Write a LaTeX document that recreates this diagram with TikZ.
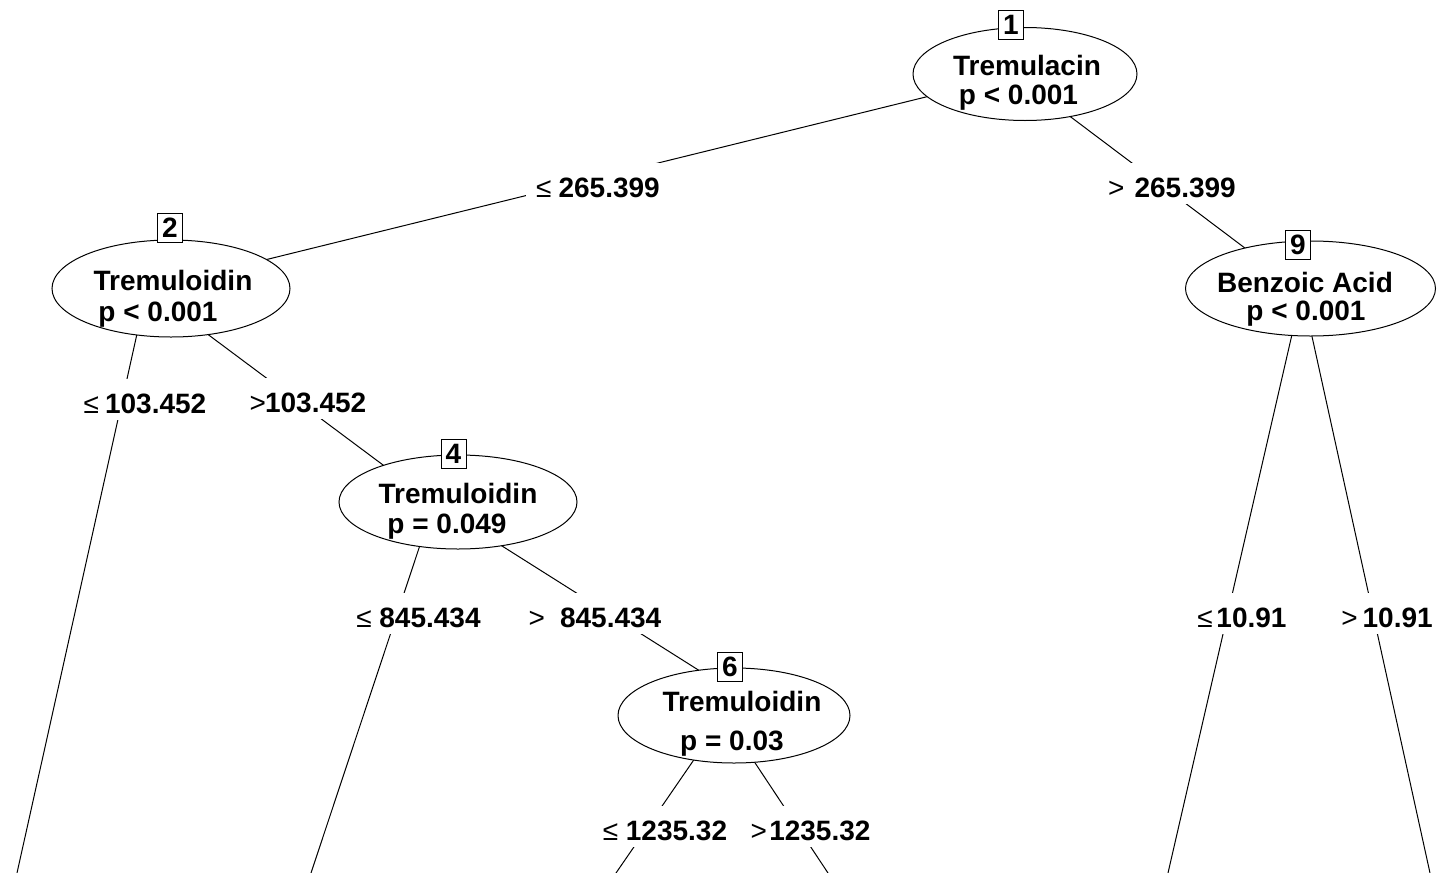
\documentclass[tikz,border=0pt]{standalone}
\usepackage{fontspec}
\setmainfont{Liberation Sans}
\usetikzlibrary{shapes.geometric}

\newcommand{\lesym}{{\mdseries ≤}}
\newcommand{\grsym}{{\mdseries >}}

\begin{document}
\begin{tikzpicture}[
    x=0.5pt, y=-0.5pt,
    font=\fontsize{14pt}{17pt}\selectfont\bfseries,
    split/.style={ellipse, draw, fill=white, inner sep=0pt, line width=0.5pt},
    idbox/.style={rectangle, draw, fill=white, minimum width=12.5pt, minimum height=14.5pt, inner sep=0pt, line width=0.5pt},
    vtext/.style={anchor=base, inner sep=0pt},
    cutlabel/.style={anchor=base, fill=white, inner xsep=5pt, inner ysep=3.5pt, text height=13.5pt, text depth=0pt},
    edge/.style={line width=0.5pt}
]
\useasboundingbox (0,0) rectangle (1437,873);

% where the edges meet the nodes
\coordinate (h1) at (1015,75);
\coordinate (h2) at (147,289);
\coordinate (h4) at (434,503);
\coordinate (h6in) at (730,690);
\coordinate (h6) at (724,716);
\coordinate (h9) at (1302,291);
% terminal nodes below the page
\coordinate (t3) at (17,873);
\coordinate (t5) at (311,873);
\coordinate (t7) at (616,873);
\coordinate (t8) at (828,873);
\coordinate (t10) at (1168,873);
\coordinate (t11) at (1430,873);

\draw[edge] (h1) -- (h2);
\draw[edge] (h1) -- (h9);
\draw[edge] (h2) -- (t3);
\draw[edge] (h2) -- (h4);
\draw[edge] (h4) -- (t5);
\draw[edge] (h4) -- (h6in);
\draw[edge] (h6) -- (t7);
\draw[edge] (h6) -- (t8);
\draw[edge] (h9) -- (t10);
\draw[edge] (h9) -- (t11);

% split labels
\node[cutlabel] (c12) at (598,197) {\lesym\hspace{3.5pt}265.399};
\node[cutlabel] (c19) at (1172,197) {\grsym\hspace{5pt}265.399};
\node[cutlabel] (c23) at (145,413) {\lesym\hspace{3pt}103.452};
\node[cutlabel] (c24) at (308,412) {\grsym\hspace{-0.5pt}103.452};
\node[cutlabel] (c45) at (418.5,627) {\lesym\hspace{3.8pt}845.434};
\node[cutlabel] (c46) at (595,627) {\grsym\hspace{7.5pt}845.434};
\node[cutlabel] (c67) at (665,840) {\lesym\hspace{3.8pt}1235.32};
\node[cutlabel] (c68) at (810.5,840) {\grsym\hspace{1.2pt}1235.32};
\node[cutlabel] (c910) at (1242,627) {\lesym\hspace{1.8pt}10.91};
\node[cutlabel] (c911) at (1387,627) {\grsym\hspace{2.5pt}10.91};

% inner nodes
\node[split, minimum width=112pt, minimum height=46.5pt] (n1) at (1025,74) {};
\node[split, minimum width=119pt, minimum height=48.5pt] (n2) at (171,288.5) {};
\node[split, minimum width=119pt, minimum height=47pt] (n4) at (458,502) {};
\node[split, minimum width=116pt, minimum height=47.5pt] (n6) at (734,715.5) {};
\node[split, minimum width=125pt, minimum height=47.5pt] (n9) at (1310.5,288.5) {};

\node[idbox] (b1) at (1011,25) {1};
\node[idbox] (b2) at (170,227.5) {2};
\node[idbox] (b4) at (453.5,454) {4};
\node[idbox] (b6) at (730,667) {6};
\node[idbox] (b9) at (1298,244.5) {9};

\node[vtext] (v1) at (1027,75) {Tremulacin};
\node[vtext] (p1) at (1018.5,104) {p < 0.001};
\node[vtext] (v2) at (173,290) {Tremuloidin};
\node[vtext] (p2) at (158,321) {p < 0.001};
\node[vtext] (v4) at (458,503) {Tremuloidin};
\node[vtext] (p4) at (447,533) {p = 0.049};
\node[vtext] (v6) at (742,711) {Tremuloidin};
\node[vtext] (p6) at (732,750) {p = 0.03};
\node[vtext] (v9) at (1305,292) {Benzoic Acid};
\node[vtext] (p9) at (1306,320) {p < 0.001};
\end{tikzpicture}
\end{document}
